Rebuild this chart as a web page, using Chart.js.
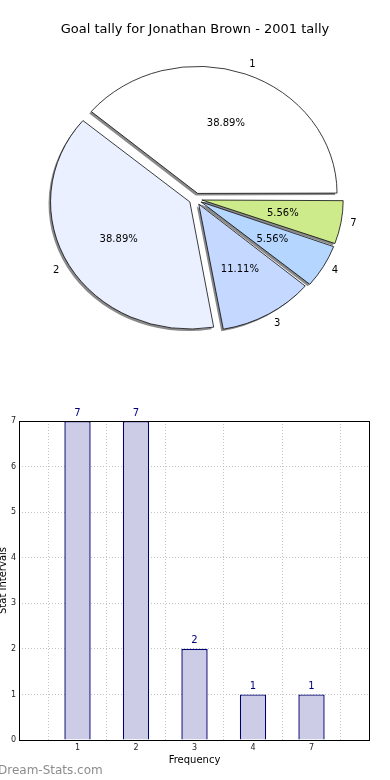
<!DOCTYPE html>
<html>
<head>
<meta charset="utf-8">
<script src="https://cdn.jsdelivr.net/npm/chart.js@4.4.0/dist/chart.umd.min.js"></script>
<style>
  html, body { margin: 0; padding: 0; background: #fff; }
  canvas { display: block; }
  #pieBox { position: absolute; left: 0; top: 0; width: 390px; height: 390px; }
  #barBox { position: absolute; left: 0; top: 390px; width: 390px; height: 390px; }
</style>
</head>
<body>
<div id="pieBox"><canvas id="pieChart" width="390" height="390" style="width:390px;height:390px"></canvas></div>
<div id="barBox"><canvas id="barChart" width="390" height="390" style="width:390px;height:390px"></canvas></div>
<script>
var titleText = "Goal tally for Jonathan Brown - 2001 tally";
var categories = ["1", "2", "3", "4", "7"];
var counts = [7, 7, 2, 1, 1];
var pieColors = ["#ffffff", "#eaf0ff", "#c5d8ff", "#b4d6ff", "#cdeb8b"];
var yTicks = [0, 1, 2, 3, 4, 5, 6, 7];

Chart.defaults.font.family = "'DejaVu Sans', sans-serif";
Chart.defaults.color = "#000";

var total = counts.reduce(function (a, b) { return a + b; }, 0);
var squash = 0.912;   // the original pie is a bit flattened

// chart.js goes clockwise, the original goes counter clockwise -> reverse
var pieLabels = categories.slice().reverse();
var pieValues = counts.slice().reverse();
var pieFill = pieColors.slice().reverse();

var piePlugin = {
  id: "piePlugin",
  beforeDatasetsDraw: function (chart) {
    var ctx = chart.ctx, a = chart.chartArea;
    var cx = (a.left + a.right) / 2, cy = (a.top + a.bottom) / 2;
    ctx.save();
    ctx.translate(cx, cy);
    ctx.scale(1, squash);
    ctx.translate(-cx, -cy);
    // grey shadow copies of the wedges, shifted down-left
    chart.getDatasetMeta(0).data.forEach(function (arc) {
      var ghost = Object.create(arc);
      ghost.options = {
        backgroundColor: "#8a8a8a", borderColor: "#8a8a8a", borderWidth: 0,
        borderAlign: "center", borderRadius: 0, borderDash: [], borderDashOffset: 0,
        offset: arc.options.offset, spacing: 0, circular: true
      };
      ctx.save();
      ctx.translate(-2, 2.2);
      ghost.draw(ctx);
      ctx.restore();
    });
  },
  afterDatasetsDraw: function (chart) {
    var ctx = chart.ctx, a = chart.chartArea;
    ctx.restore();
    var cx = (a.left + a.right) / 2, cy = (a.top + a.bottom) / 2;
    var arcs = chart.getDatasetMeta(0).data;
    ctx.save();
    ctx.fillStyle = "#000";
    ctx.font = "10px 'DejaVu Sans'";
    ctx.textBaseline = "middle";
    arcs.forEach(function (arc, i) {
      var mid = (arc.startAngle + arc.endAngle) / 2;
      var r = arc.outerRadius, off = arc.options.offset / 4;
      var c = Math.cos(mid), s = Math.sin(mid);
      var px = arc.x + c * (off + 0.6 * r);
      var py = cy + (arc.y + s * (off + 0.6 * r) - cy) * squash;
      ctx.textAlign = "center";
      ctx.fillText((pieValues[i] / total * 100).toFixed(2) + "%", px, py);
      var lx = arc.x + c * (off + 1.1 * r);
      var ly = cy + (arc.y + s * (off + 1.1 * r) - cy) * squash;
      ctx.textAlign = c >= 0 ? "left" : "right";
      ctx.fillText(pieLabels[i], lx, ly);
    });
    ctx.font = "13px 'DejaVu Sans'";
    ctx.textAlign = "center";
    ctx.fillText(titleText, 195, 30);
    ctx.restore();
  }
};

new Chart("pieChart", {
  type: "pie",
  data: {
    labels: pieLabels,
    datasets: [{
      data: pieValues,
      backgroundColor: pieFill,
      borderColor: "#000",
      borderWidth: 0.8,
      offset: 26
    }]
  },
  options: {
    responsive: false,
    animation: false,
    rotation: 90,
    radius: 137,
    layout: { padding: { top: 50, bottom: 42, left: 1, right: 0 } },
    plugins: { legend: { display: false }, tooltip: { enabled: false } }
  },
  plugins: [piePlugin]
});

var barPlugin = {
  id: "barPlugin",
  afterDatasetsDraw: function (chart) {
    var ctx = chart.ctx, a = chart.chartArea;
    ctx.save();
    ctx.strokeStyle = "#000";
    ctx.lineWidth = 1;
    ctx.strokeRect(a.left + 0.5, a.top + 0.5, a.right - a.left - 1, a.bottom - a.top);
    ctx.fillStyle = "#000080";
    ctx.font = "10px 'DejaVu Sans'";
    ctx.textAlign = "center";
    ctx.textBaseline = "bottom";
    chart.getDatasetMeta(0).data.forEach(function (bar, i) {
      ctx.fillText(String(counts[i]), bar.x, bar.y - 3);
    });
    ctx.fillStyle = "#8c8c8c";
    ctx.font = "12px 'DejaVu Sans'";
    ctx.textAlign = "left";
    ctx.textBaseline = "middle";
    ctx.fillText("Dream-Stats.com", -2, 381);
    ctx.restore();
  }
};

new Chart("barChart", {
  type: "bar",
  data: {
    datasets: [{
      data: counts.map(function (v, i) { return { x: i + 1, y: v }; }),
      backgroundColor: "#ccccE6",
      borderColor: "#000070",
      borderWidth: 1.4,
      barPercentage: 0.45,
      categoryPercentage: 1
    }]
  },
  options: {
    responsive: false,
    animation: false,
    layout: { padding: { top: 31, right: 20, left: 0, bottom: 0 } },
    plugins: { legend: { display: false }, tooltip: { enabled: false } },
    scales: {
      x: {
        type: "linear",
        min: 0,
        max: 6,
        offset: false,
        afterBuildTicks: function (scale) {
          scale.ticks = categories.map(function (c, i) { return { value: i + 1 }; });
        },
        afterFit: function (scale) { scale.height = 40; },
        ticks: {
          font: { size: 8 },
          color: "#222",
          padding: 3,
          maxRotation: 0,
          callback: function (v) { return categories[v - 1]; }
        },
        grid: { color: "#c4c4c4", drawTicks: false },
        border: { display: false, dash: [1, 2] },
        title: { display: true, text: "Frequency", font: { size: 10 }, padding: { top: 4, bottom: 14 } }
      },
      y: {
        min: 0,
        max: 7,
        afterBuildTicks: function (scale) {
          scale.ticks = yTicks.map(function (v) { return { value: v }; });
        },
        afterFit: function (scale) { scale.width = 19; },
        ticks: { font: { size: 8 }, color: "#222", padding: 3 },
        grid: { color: "#c4c4c4", drawTicks: false },
        border: { display: false, dash: [1, 2] },
        title: { display: true, text: "Stat Intervals", font: { size: 10 }, padding: { top: -3, bottom: 0 } }
      }
    }
  },
  plugins: [barPlugin]
});
</script>
</body>
</html>
